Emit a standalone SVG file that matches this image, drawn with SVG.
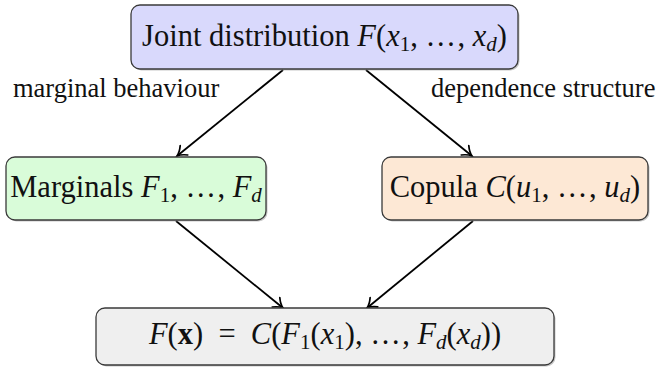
<svg xmlns="http://www.w3.org/2000/svg" width="660" height="368" viewBox="0 0 660 368">
<defs>
<style>
.box{stroke:#3a3a3a;stroke-width:1.3}
.shadow{fill:#9a9a9a;opacity:0.55}
.t{font-family:"Liberation Serif","Times New Roman",serif;font-size:30.5px;fill:#111;text-anchor:middle}
.lbl{font-family:"Liberation Serif","Times New Roman",serif;font-size:26.5px;fill:#111}
.i{font-style:italic}
.b{font-weight:bold}
.s{font-size:21px}
.dots{letter-spacing:1.5px}
.edge{stroke:#000;stroke-width:1.8;fill:none;marker-end:url(#arr)}
</style>
<marker id="arr" viewBox="-11 -7 13 14" refX="0" refY="0" markerWidth="13" markerHeight="14" markerUnits="userSpaceOnUse" orient="auto">
<path d="M -9,-6 C -5.5,-2.4 -2.2,-0.6 0,0 C -2.2,0.6 -5.5,2.4 -9,6" fill="none" stroke="#000" stroke-width="1.7" stroke-linecap="round"/>
</marker>
</defs>
<rect width="660" height="368" fill="#fff"/>

<g id="connectors">
<line class="edge" x1="283" y1="70" x2="177" y2="156"/>
<line class="edge" x1="366" y1="70" x2="472" y2="156"/>
<line class="edge" x1="176" y1="221" x2="283" y2="308"/>
<line class="edge" x1="473" y1="221" x2="367" y2="308"/>
</g>

<g id="label-marginal">
<text class="lbl" x="13" y="97">marginal behaviour</text>
</g>
<g id="label-dependence">
<text class="lbl" x="431" y="97">dependence structure</text>
</g>

<g id="joint">
<rect class="shadow" x="132.5" y="6.5" width="387" height="64" rx="9"/>
<rect class="box" x="131" y="5" width="387" height="64" rx="9" fill="#d9d9fc"/>
<text class="t" x="324.5" y="46">Joint distribution <tspan class="i">F</tspan>(<tspan class="i">x</tspan><tspan class="s" dy="5">1</tspan><tspan dy="-5">, </tspan><tspan class="dots">…</tspan>, <tspan class="i">x</tspan><tspan class="s i" dy="5">d</tspan><tspan dy="-5">)</tspan></text>
</g>

<g id="marginals">
<rect class="shadow" x="7.5" y="158.5" width="260" height="63" rx="9"/>
<rect class="box" x="6" y="157" width="260" height="63" rx="9" fill="#d9fcd9"/>
<text class="t" x="136" y="197">Marginals <tspan class="i">F</tspan><tspan class="s" dy="5">1</tspan><tspan dy="-5">, </tspan><tspan class="dots">…</tspan>, <tspan class="i">F</tspan><tspan class="s i" dy="5">d</tspan></text>
</g>

<g id="copula">
<rect class="shadow" x="383.5" y="158.5" width="266" height="63" rx="9"/>
<rect class="box" x="382" y="157" width="266" height="63" rx="9" fill="#fde8d5"/>
<text class="t" x="515" y="197">Copula <tspan class="i">C</tspan>(<tspan class="i">u</tspan><tspan class="s" dy="5">1</tspan><tspan dy="-5">, </tspan><tspan class="dots">…</tspan>, <tspan class="i">u</tspan><tspan class="s i" dy="5">d</tspan><tspan dy="-5">)</tspan></text>
</g>

<g id="result">
<rect class="shadow" x="97.5" y="309.5" width="458" height="57" rx="9"/>
<rect class="box" x="96" y="308" width="458" height="57" rx="9" fill="#efefef"/>
<text class="t" x="325" y="344"><tspan class="i">F</tspan>(<tspan class="b">x</tspan>)&#8194;=&#8194;<tspan class="i">C</tspan>(<tspan class="i">F</tspan><tspan class="s" dy="5">1</tspan><tspan dy="-5">(</tspan><tspan class="i">x</tspan><tspan class="s" dy="5">1</tspan><tspan dy="-5">), </tspan><tspan class="dots">…</tspan>, <tspan class="i">F</tspan><tspan class="s i" dy="5">d</tspan><tspan dy="-5">(</tspan><tspan class="i">x</tspan><tspan class="s i" dy="5">d</tspan><tspan dy="-5">))</tspan></text>
</g>
</svg>
